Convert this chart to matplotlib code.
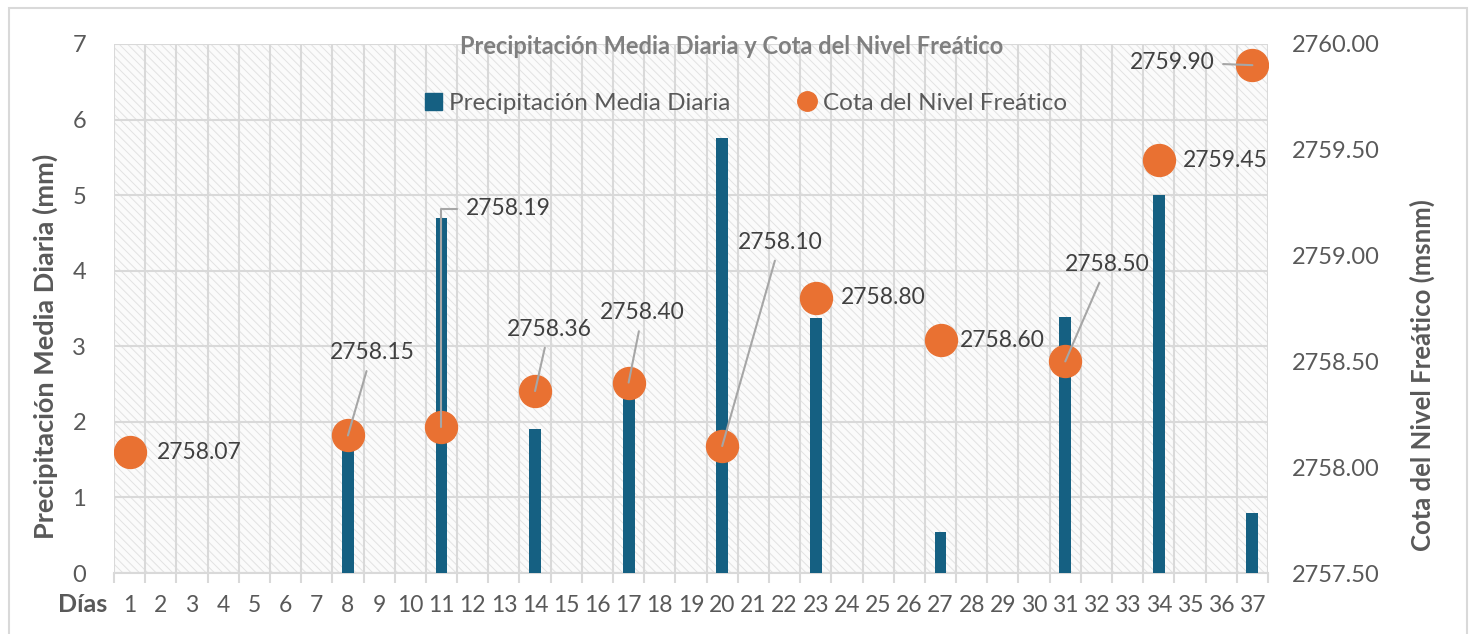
import matplotlib
matplotlib.use("Agg")
import matplotlib.pyplot as plt
from matplotlib.lines import Line2D
from matplotlib.patches import Patch, Rectangle
import numpy as np

# data
days = list(range(1, 38))
rain_days = [8, 11, 14, 17, 20, 23, 27, 31, 34, 37]
rain_mm = [1.7, 4.7, 1.9, 2.3, 5.75, 3.37, 0.54, 3.39, 5.0, 0.8]
level_days = [1, 8, 11, 14, 17, 20, 23, 27, 31, 34, 37]
level_m = [2758.07, 2758.15, 2758.19, 2758.36, 2758.40, 2758.10,
           2758.80, 2758.60, 2758.50, 2759.45, 2759.90]

# label offsets in pixels (dx, dy) and whether a leader line is drawn
label_offsets = [(70, 0), (24, 83), (24, 218), (14, 62), (14, 70), (58, 204),
                 (67, 0), (62, 0), (42, 97), (66, 0), (-80, 3)]
leaders = [False, True, "elbow", True, True, True, False, False, True, False, True]

BAR = "#156082"
ORANGE = "#E97132"
GRID = "#d9d9d9"
TXT = "#595959"
FS = 16.5

plt.rcParams["font.family"] = ["Lato", "DejaVu Sans"]
plt.rcParams["hatch.linewidth"] = 0.7

fig = plt.figure(figsize=(14.7, 6.34), dpi=100)
ax = fig.add_axes([114 / 1470, 1 - 573 / 634, 1154 / 1470, 529 / 634])
ax2 = ax.twinx()

# hatched plot-area background
ax.patch.set_facecolor("white")
bg = Rectangle((0, 0), 1, 1, transform=ax.transAxes, facecolor="#fbfbfb",
               edgecolor="#e2e2e2", linewidth=0, hatch="\\\\\\\\", zorder=0)
ax.add_patch(bg)

xpos = {d: i for i, d in enumerate(days)}
ax.bar([xpos[d] for d in rain_days], rain_mm, width=0.38, color=BAR, zorder=3)

ax.set_xlim(-0.5, len(days) - 0.5)
ax.set_ylim(0, 7)
ax.set_yticks(range(0, 8))
ax.set_xticks(range(len(days)))
ax.set_xticklabels([str(d) for d in days])
ax.set_xticks(np.arange(-0.5, len(days)), minor=True)
ax.grid(True, which="minor", axis="x", color=GRID, lw=1.5, zorder=1)
ax.grid(True, which="major", axis="y", color=GRID, lw=1.5, zorder=1)
ax.set_axisbelow(True)
ax.tick_params(axis="x", which="major", length=0, pad=16, labelsize=FS, labelcolor=TXT)
ax.tick_params(axis="x", which="minor", length=7, width=1.5, color=GRID)
ax.tick_params(axis="y", length=0, pad=20, labelsize=FS + 0.5, labelcolor=TXT)
for s in ["top", "left", "right"]:
    ax.spines[s].set_visible(False)
ax.spines["bottom"].set_color(GRID)
ax.spines["bottom"].set_linewidth(1.5)

ax2.set_ylim(2757.5, 2760.0)
ax2.set_yticks(np.arange(2757.5, 2760.01, 0.5))
ax2.set_yticklabels([f"{v:.2f}" for v in np.arange(2757.5, 2760.01, 0.5)])
ax2.tick_params(axis="y", length=0, pad=17, labelsize=FS + 0.5, labelcolor=TXT)
for s in ax2.spines.values():
    s.set_visible(False)

lx = [xpos[d] for d in level_days]
ax2.plot(lx, level_m, "o", ms=23, color=ORANGE, mec=ORANGE, zorder=4)

for x, y, (dx, dy), ld in zip(lx, level_m, label_offsets, leaders):
    txt = f"{y:.2f}"
    if ld == "elbow":
        ax2.annotate(txt, (x, y), xytext=(dx, dy), textcoords="offset pixels",
                     ha="left", va="center", fontsize=FS, color="#404040",
                     arrowprops=dict(arrowstyle="-", color="#a6a6a6", lw=1.5,
                                     shrinkA=4, shrinkB=0, relpos=(0, 0.5),
                                     connectionstyle="angle,angleA=0,angleB=90,rad=0"),
                     zorder=6)
    elif ld:
        ax2.annotate(txt, (x, y), xytext=(dx, dy), textcoords="offset pixels",
                     ha="center", va="center", fontsize=FS, color="#404040",
                     arrowprops=dict(arrowstyle="-", color="#a6a6a6", lw=1.5,
                                     shrinkA=4, shrinkB=0),
                     zorder=6)
    else:
        ax2.annotate(txt, (x, y), xytext=(dx, dy), textcoords="offset pixels",
                     ha="center", va="center", fontsize=FS, color="#404040", zorder=6)

handles = [Patch(color=BAR),
           Line2D([], [], marker="o", ls="", ms=14, color=ORANGE)]
ax2.legend(handles, ["Precipitación Media Diaria", "Cota del Nivel Freático"],
           loc="center", bbox_to_anchor=(0.5475, 0.888), ncol=2, frameon=False,
           fontsize=17.5, labelcolor=TXT, handlelength=0.7, handletextpad=0.3,
           columnspacing=2.8)

fig.text(732 / 1470, 1 - 46 / 634, "Precipitación Media Diaria y Cota del Nivel Freático",
         ha="center", va="center", fontsize=17, fontweight="bold", color="#7f7f7f")
fig.text(45 / 1470, 1 - 346 / 634, "Precipitación Media Diaria (mm)", rotation=90,
         ha="center", va="center", fontsize=19.5, fontweight="bold", color=TXT)
fig.text(1422 / 1470, 1 - 375 / 634, "Cota del Nivel Freático (msnm)", rotation=90,
         ha="center", va="center", fontsize=18.5, fontweight="bold", color=TXT)
fig.text(83 / 1470, 1 - 605 / 634, "Días", ha="center", va="center",
         fontsize=18, fontweight="bold", color=TXT)

fig.add_artist(Rectangle((9 / 1470, -0.05), 1458 / 1470, 1.05 - 8 / 634,
                         transform=fig.transFigure, fill=False,
                         edgecolor=GRID, lw=1.5))

fig.savefig("out.png", dpi=100)
